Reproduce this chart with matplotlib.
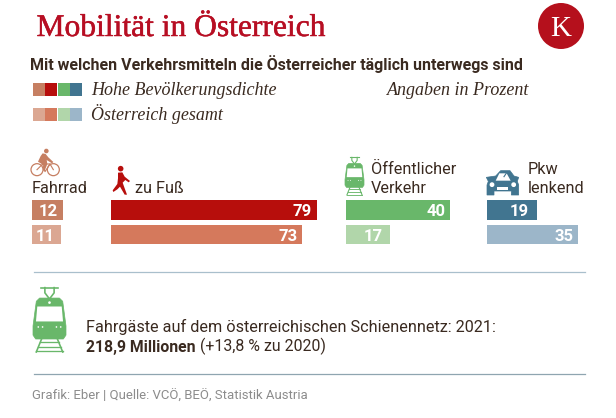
import matplotlib
matplotlib.use("Agg")
import matplotlib.pyplot as plt
import matplotlib.patheffects as pe
from matplotlib.patches import Circle, Polygon, Rectangle

W, H = 616, 418

categories = ["Fahrrad", "zu Fuß", "Öffentlicher\nVerkehr", "Pkw\nlenkend"]
hohe_dichte = [12, 79, 40, 19]
gesamt = [11, 73, 17, 35]
colors_hohe = ["#c67f62", "#b70e0c", "#69b76a", "#417590"]
colors_gesamt = ["#dba792", "#d5795c", "#b1d6aa", "#9cb6c9"]

# pixel setup of the four small bar panels
bar_left = [32, 111, 346, 487]
label_pad = [[-6, -6], [-5, -4], [-5, -8], [-8, -5]]
px_per_pct = 2.61

DARK = "#3a2a20"
RED = "#b70e23"
SANS = "Roboto"
SERIF = "Liberation Serif"

fig = plt.figure(figsize=(W / 100, H / 100), dpi=100, facecolor="white")
bg = fig.add_axes([0, 0, 1, 1])
bg.set_xlim(0, W)
bg.set_ylim(H, 0)
bg.axis("off")


def draw_train(ax, x, y, w, h, color):
    def p(u, v):
        return (x + u * w, y + v * h)
    lw = max(w / 28, 0.8)
    # pantograph
    ax.plot(*zip(p(0.25, 0.01), p(0.75, 0.01)), color=color, lw=lw)
    ax.plot(*zip(p(0.36, 0.01), p(0.36, 0.09), p(0.48, 0.17)), color=color, lw=lw)
    ax.plot(*zip(p(0.64, 0.01), p(0.64, 0.09), p(0.52, 0.17)), color=color, lw=lw)
    # body
    ax.add_patch(Polygon([p(0.1, 0.22), p(0.2, 0.17), p(0.8, 0.17), p(0.9, 0.22),
                          p(1, 0.6), p(1, 0.74), p(0.92, 0.8), p(0.08, 0.8),
                          p(0, 0.74), p(0, 0.6)], closed=True, fc=color, ec=color, lw=0.5))
    ax.add_patch(Polygon([p(0.13, 0.3), p(0.87, 0.3), p(0.91, 0.53), p(0.09, 0.53)],
                         closed=True, fc="white", ec="none"))
    ax.add_patch(Circle(p(0.5, 0.24), w * 0.04, fc="white", ec="none"))
    for u in (0.16, 0.29, 0.71, 0.84):
        ax.add_patch(Circle(p(u, 0.615), w * 0.025, fc="white", ec="none"))
    # rails
    ax.plot(*zip(p(0.26, 0.8), p(0.1, 1.0)), color=color, lw=lw)
    ax.plot(*zip(p(0.74, 0.8), p(0.9, 1.0)), color=color, lw=lw)
    for v, a, b in ((0.85, 0.22, 0.78), (0.92, 0.16, 0.84), (0.99, 0.1, 0.9)):
        ax.plot(*zip(p(a, v), p(b, v)), color=color, lw=lw * 0.8)


def draw_car(ax, color):
    def z(zx, zy):
        return (308 + zx / 3, 140 + zy / 3)
    ax.add_patch(Polygon([z(563, 108), z(578, 92), z(592, 92), z(606, 92), z(618, 108),
                          z(632, 112), z(628, 124), z(632, 135), z(632, 165), z(610, 165),
                          z(610, 153), z(558, 153), z(558, 165), z(537, 165), z(537, 135),
                          z(541, 124), z(535, 112)], closed=True, fc=color, ec=color, lw=0.5))
    ax.add_patch(Polygon([z(563, 122), z(574, 100), z(596, 100), z(608, 122)],
                         closed=True, fc="white", ec="none"))
    ax.plot(*zip(z(596, 98), z(588, 110)), color=color, lw=0.8)
    ax.add_patch(Circle(z(552, 134), 2.4, fc="white", ec="none"))
    ax.add_patch(Circle(z(617, 134), 2.4, fc="white", ec="none"))
    ax.add_patch(Rectangle(z(568, 142), 11, 2.5, fc="white", ec="none"))


def draw_bike(ax, color):
    def z(zx, zy):
        return (zx / 3, 140 + zy / 3)
    for cx in (111, 160):
        ax.add_patch(Circle(z(cx, 89), 6, fc="none", ec=color, lw=0.9))
    ax.plot(*zip(z(111, 89), z(128, 72), z(150, 72), z(160, 89)), color=color, lw=0.8)
    ax.plot(*zip(z(128, 72), z(135, 95), z(150, 72)), color=color, lw=0.8)
    ax.add_patch(Circle(z(139, 33), 2.3, fc=color, ec="none"))
    ax.add_patch(Polygon([z(128, 40), z(137, 42), z(145, 52), z(160, 66), z(156, 70),
                          z(140, 60), z(142, 72), z(134, 92), z(129, 92), z(130, 75),
                          z(114, 65), z(122, 48)], closed=True, fc=color, ec="none"))


def draw_walker(ax, color):
    def z(zx, zy):
        return (zx / 3, 140 + zy / 3)
    ax.add_patch(Circle(z(362, 86), 2.8, fc=color, ec="none"))
    ax.add_patch(Polygon([z(354, 98), z(367, 97), z(374, 110), z(390, 123), z(386, 127),
                          z(376, 120), z(368, 128), z(374, 145), z(381, 164), z(374, 164),
                          z(360, 140), z(352, 148), z(340, 156), z(338, 151), z(352, 132),
                          z(354, 115)], closed=True, fc=color, ec="none"))


# heading
bg.text(36.5, 36, "Mobilität in Österreich", family=SERIF, fontsize=22.7, color=RED, ha="left", va="baseline",
        path_effects=[pe.withStroke(linewidth=0.35, foreground=RED)])
bg.add_patch(Circle((561, 26), 23, fc="#b5101c", ec="none"))
bg.text(561, 36, "K", family=SERIF, fontsize=21, color="white", ha="center", va="baseline")
bg.text(30, 70, "Mit welchen Verkehrsmitteln die Österreicher täglich unterwegs sind",
        family=SANS, fontweight="bold", fontsize=11.5, color=DARK, ha="left", va="baseline")

# legend swatches
for row_y, cols in ((83, colors_hohe), (108, colors_gesamt)):
    for i, col in enumerate(cols):
        bg.add_patch(Rectangle((33 + i * 12.4, row_y), 11.8, 13, fc=col, ec="none"))
legend_font = dict(family=SERIF, style="italic", fontsize=13, color=DARK, va="baseline")
bg.text(91, 95, "Hohe Bevölkerungsdichte", ha="left", **legend_font)
bg.text(91, 120, "Österreich gesamt", ha="left", **legend_font)
bg.text(529, 95, "Angaben in Prozent", ha="right", **legend_font)

# icons
draw_bike(bg, colors_hohe[0])
draw_walker(bg, colors_hohe[1])
draw_train(bg, 345, 157, 19, 38, colors_hohe[2])
draw_car(bg, colors_hohe[3])
draw_train(bg, 33, 287, 33, 65, colors_hohe[2])

# category labels
cat_font = dict(family=SANS, fontsize=11.7, color=DARK, linespacing=1.32)
bg.text(32, 193, categories[0], ha="left", va="baseline", **cat_font)
bg.text(135, 193, categories[1], ha="left", va="baseline", **cat_font)
bg.text(371, 193, categories[2], ha="left", va="baseline", **cat_font)
bg.text(528, 193, categories[3], ha="left", va="baseline", **cat_font)

# bars
for i in range(4):
    ax = fig.add_axes([bar_left[i] / W, 1 - 247 / H, 80 * px_per_pct / W, 49.4 / H])
    ax.set_xlim(0, 80)
    ax.set_ylim(1.5, -0.5)
    ax.axis("off")
    vals = [hohe_dichte[i], gesamt[i]]
    ax.barh([0, 1], vals, height=0.79, color=[colors_hohe[i], colors_gesamt[i]])
    for j, v in enumerate(vals):
        ax.annotate(str(v), (v, j), xytext=(label_pad[i][j] * 0.72, 0), textcoords="offset points",
                    ha="right", va="center_baseline", family=SANS, fontweight="bold",
                    fontsize=12, color="white")

# rail box
bg.plot([34, 585], [272, 272], color="#a9bfcc", lw=0.9)
bg.plot([34, 585], [374, 374], color="#8fa5b0", lw=0.9)
bg.text(86, 332, "Fahrgäste auf dem österreichischen Schienennetz: 2021:",
        family=SANS, fontsize=11.7, color=DARK, ha="left", va="baseline")
t = bg.text(86, 352, "218,9 Millionen", family=SANS, fontweight="bold", fontsize=11.3,
            color=DARK, ha="left", va="baseline")
bg.annotate(" (+13,8 % zu 2020)", xy=(1, 0), xycoords=t, va="bottom", ha="left",
            family=SANS, fontsize=11.4, color=DARK)

bg.text(32, 400, "Grafik: Eber | Quelle: VCÖ, BEÖ, Statistik Austria",
        family=SANS, fontsize=9.45, color="#8c8c8c", ha="left", va="baseline")

fig.savefig("out.png", dpi=100)
